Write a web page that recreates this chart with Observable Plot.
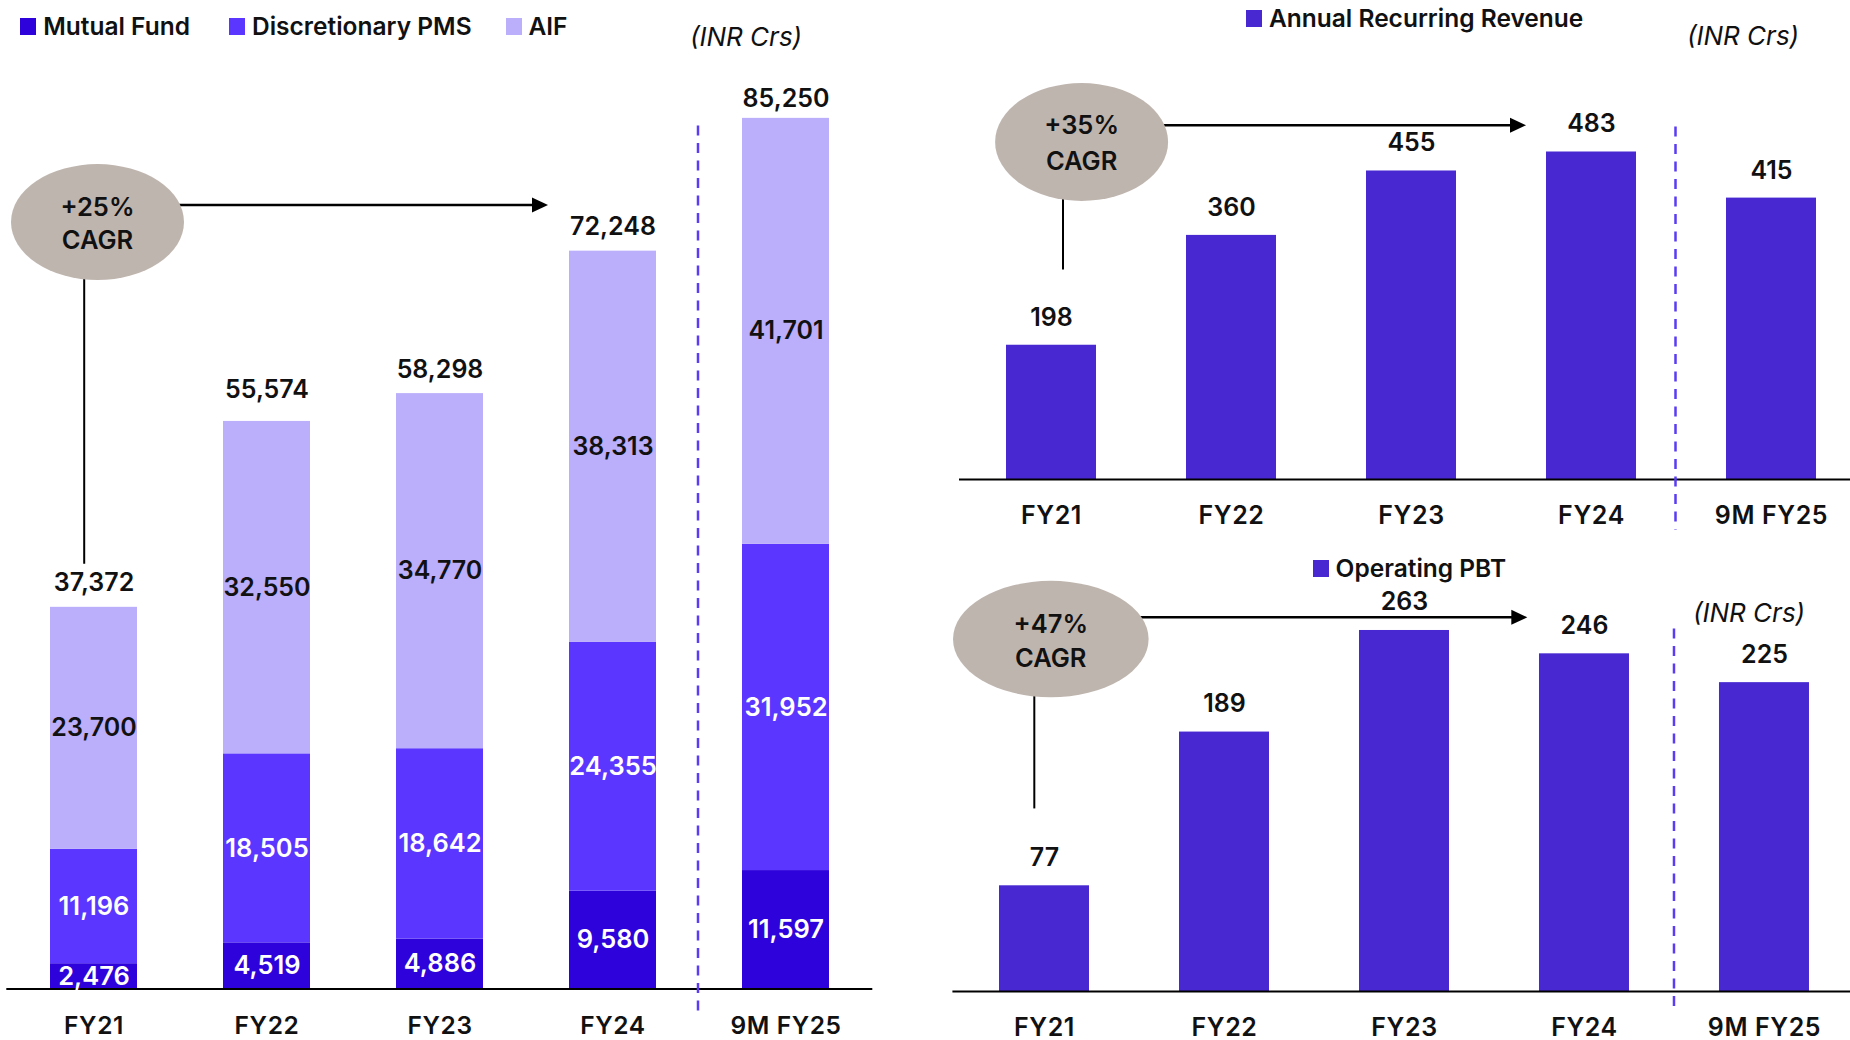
<!DOCTYPE html>
<html>
<head>
<meta charset="utf-8">
<title>AUM, Annual Recurring Revenue and Operating PBT</title>
<script src="https://cdn.jsdelivr.net/npm/d3@7"></script>
<script src="https://cdn.jsdelivr.net/npm/@observablehq/plot@0.6"></script>
<style>
  html, body { margin: 0; padding: 0; background: #fff; }
  body {
    width: 1850px; height: 1040px; overflow: hidden; position: relative;
    font-family: Inter, "Noto Sans", sans-serif; color: #111;
  }
  .panel { position: absolute; }
  .panel svg { max-width: none !important; }
  .legend-item {
    position: absolute; display: flex; align-items: center; height: 30px;
    font-size: 24.5px; font-weight: 600; white-space: nowrap; line-height: 1;
  }
  .legend-item .sw { display: inline-block; width: 16px; height: 17px; margin-right: 7px; flex: none; }
  .unit {
    position: absolute; font-size: 26px; font-style: italic; font-weight: 400;
    line-height: 30px; height: 30px; white-space: nowrap;
  }
  svg g[aria-label="x-axis tick label"] { font-weight: 600; letter-spacing: 0.6px; }
</style>
</head>
<body>
<div id="aum" class="panel" style="left:0;top:0"></div>
<div id="arr" class="panel" style="left:940px;top:0"></div>
<div id="pbt" class="panel" style="left:940px;top:540px"></div>
<script>
// ---- data (INR Crs) ----
const years = ["FY21", "FY22", "FY23", "FY24", "9M FY25"];
const aumSeries = ["Mutual Fund", "Discretionary PMS", "AIF"];
const mutualFund = [2476, 4519, 4886, 9580, 11597];
const discretionaryPms = [11196, 18505, 18642, 24355, 31952];
const aif = [23700, 32550, 34770, 38313, 41701];
const annualRecurringRevenue = [198, 360, 455, 483, 415];
const operatingPbt = [77, 189, 263, 246, 225];
const cagrAum = "+25%";
const cagrArr = "+35%";
const cagrPbt = "+47%";

// ---- styling ----
const FONT = "Inter, 'Noto Sans', sans-serif";
const aumColors = ["#2e02da", "#5a36ff", "#bbaefb"];
const barColor = "#4829d1";
const dividerColor = "#5b3cf2";
const badgeColor = "#bfb5af";
const ink = "#111";
const fmt = d3.format(",");

// long-form table for the stacked AUM bars (Mutual Fund at the bottom)
const aumRows = years.flatMap((year, i) => [
  {year, series: aumSeries[0], value: mutualFund[i]},
  {year, series: aumSeries[1], value: discretionaryPms[i]},
  {year, series: aumSeries[2], value: aif[i]}
]);
const aumTotals = years.map((year, i) => ({year, total: mutualFund[i] + discretionaryPms[i] + aif[i]}));
const arrRows = years.map((year, i) => ({year, value: annualRecurringRevenue[i]}));
const pbtRows = years.map((year, i) => ({year, value: operatingPbt[i]}));

// Dashed divider before the 9-month period, plus the CAGR bubble with its
// stem and arrow; everything is placed from the chart's own x and y scales.
function annotations({badge, divider}) {
  return (index, {x, y}) => {
    const g = d3.create("svg:g");
    const bw = x.bandwidth();
    const base = y(0);

    const xd = (x(divider.after) + bw + x(divider.before)) / 2 + divider.dx;
    g.append("line")
      .attr("x1", xd).attr("x2", xd)
      .attr("y1", y(divider.top)).attr("y2", base + divider.below)
      .attr("stroke", dividerColor).attr("stroke-width", 2.5)
      .attr("stroke-dasharray", "10 7.5");

    const cx = x(badge.at) + bw / 2 + badge.dx;
    const cy = y(badge.y);
    const {rx, ry} = badge;

    const sx = cx + badge.stemDx;
    const sTop = cy + ry * Math.sqrt(1 - ((sx - cx) / rx) ** 2);
    g.append("line")
      .attr("x1", sx).attr("x2", sx)
      .attr("y1", sTop - 3).attr("y2", y(badge.stemTo))
      .attr("stroke", "#000").attr("stroke-width", 2);

    const ay = cy + badge.arrowDy;
    const ax0 = cx + rx * Math.sqrt(1 - ((ay - cy) / ry) ** 2);
    const ax1 = x(badge.arrowTo) + badge.arrowDx;
    g.append("line")
      .attr("x1", ax0 - 3).attr("x2", ax1 - 12)
      .attr("y1", ay).attr("y2", ay)
      .attr("stroke", "#000").attr("stroke-width", 2.5);
    g.append("path")
      .attr("d", `M${ax1},${ay}L${ax1 - 16},${ay - 7.5}L${ax1 - 16},${ay + 7.5}Z`)
      .attr("fill", "#000");

    g.append("ellipse")
      .attr("cx", cx).attr("cy", cy).attr("rx", rx).attr("ry", ry)
      .attr("fill", badgeColor);
    const t = g.append("g")
      .attr("text-anchor", "middle")
      .attr("font-family", FONT).attr("font-size", 25.5).attr("font-weight", 600)
      .attr("fill", ink);
    t.append("text").attr("x", cx).attr("y", cy + badge.line1).attr("dy", "0.36em").text(badge.label);
    t.append("text").attr("x", cx).attr("y", cy + badge.line2).attr("dy", "0.36em").text("CAGR");
    return g.node();
  };
}

const baseStyle = {fontFamily: FONT, overflow: "visible", background: "transparent", color: ink, maxWidth: "none"};
const totalText = {x: "year", y: "total", text: d => fmt(d.total), fontSize: 25, fontWeight: 600, fill: ink};

// ---- Assets under management, stacked by product ----
const aumChart = Plot.plot({
  width: 880, height: 1040,
  marginTop: 28.5, marginBottom: 51.5, marginLeft: 6.3, marginRight: 7.7,
  style: baseStyle,
  x: {domain: years, type: "band", paddingInner: 0.5, paddingOuter: 0.25, label: null},
  y: {domain: [0, 94000], axis: null},
  color: {domain: aumSeries, range: aumColors},
  marks: [
    Plot.barY(aumRows, {x: "year", y: "value", fill: "series"}),
    Plot.ruleY([0], {stroke: "#000", strokeWidth: 2}),
    Plot.text(aumRows, Plot.stackY({
      x: "year", y: "value", z: "series",
      text: d => d.series === "AIF" ? fmt(d.value) : null,
      fill: ink, fontSize: 25, fontWeight: 600
    })),
    Plot.text(aumRows, Plot.stackY({
      x: "year", y: "value", z: "series",
      text: d => d.series !== "AIF" ? fmt(d.value) : null,
      fill: "#fff", fontSize: 25.5, fontWeight: 600
    })),
    // totals sit a little higher over FY22 and a little lower over the 9M bar
    Plot.text(aumTotals, {...totalText, filter: d => d.year !== "FY22" && d.year !== "9M FY25", dy: -24}),
    Plot.text(aumTotals, {...totalText, filter: d => d.year === "FY22", dy: -31}),
    Plot.text(aumTotals, {...totalText, filter: d => d.year === "9M FY25", dy: -19}),
    Plot.axisX({tickSize: 0, tickPadding: 27.5, fontSize: 24.5, fontWeight: 600, color: ink, label: null}),
    annotations({
      divider: {after: "FY24", before: "9M FY25", dx: -1, top: 84500, below: 23.5},
      badge: {
        label: cagrAum, at: "FY21", dx: 4, y: 75050, rx: 86.5, ry: 58,
        line1: -15, line2: 18, stemDx: -13.3, stemTo: 41600,
        arrowDy: -17, arrowTo: "FY24", arrowDx: -21
      }
    })
  ]
});
document.getElementById("aum").append(aumChart);

// ---- Annual Recurring Revenue ----
const arrChart = Plot.plot({
  width: 922, height: 540,
  marginTop: 58.6, marginBottom: 61, marginLeft: 19, marginRight: 0,
  style: baseStyle,
  x: {domain: years, type: "band", paddingInner: 0.5, paddingOuter: 0.25, label: null},
  y: {domain: [0, 620], axis: null},
  marks: [
    Plot.barY(arrRows, {x: "year", y: "value", fill: barColor}),
    Plot.ruleY([0], {stroke: "#000", strokeWidth: 2}),
    Plot.text(arrRows, {x: "year", y: "value", text: d => fmt(d.value), dy: -27.5, fontSize: 25, fontWeight: 600, fill: ink}),
    Plot.axisX({tickSize: 0, tickPadding: 26.5, fontSize: 25, fontWeight: 600, color: ink, label: null}),
    annotations({
      divider: {after: "FY24", before: "9M FY25", dx: -5.5, top: 520, below: 50.6},
      badge: {
        label: cagrArr, at: "FY21", dx: 30.6, y: 497, rx: 86.5, ry: 59,
        line1: -17, line2: 18.5, stemDx: -18.6, stemTo: 309,
        arrowDy: -16.7, arrowTo: "FY24", arrowDx: -20
      }
    })
  ]
});
document.getElementById("arr").append(arrChart);

// ---- Operating PBT ----
const pbtChart = Plot.plot({
  width: 914.9, height: 500,
  marginTop: 39.2, marginBottom: 49, marginLeft: 12.4, marginRight: 0,
  style: baseStyle,
  x: {domain: years, type: "band", paddingInner: 0.5, paddingOuter: 0.25, label: null},
  y: {domain: [0, 300], axis: null},
  marks: [
    Plot.barY(pbtRows, {x: "year", y: "value", fill: barColor}),
    Plot.ruleY([0], {stroke: "#000", strokeWidth: 2}),
    Plot.text(pbtRows, {x: "year", y: "value", text: d => fmt(d.value), dy: -28, fontSize: 25, fontWeight: 600, fill: ink}),
    Plot.axisX({tickSize: 0, tickPadding: 27, fontSize: 25, fontWeight: 600, color: ink, label: null}),
    annotations({
      divider: {after: "FY24", before: "9M FY25", dx: 0, top: 264, below: 20.7},
      badge: {
        label: cagrPbt, at: "FY21", dx: 6.8, y: 256.4, rx: 97.8, ry: 58.2,
        line1: -15.7, line2: 19, stemDx: -16.5, stemTo: 133,
        arrowDy: -21.7, arrowTo: "FY24", arrowDx: -11.7
      }
    })
  ]
});
document.getElementById("pbt").append(pbtChart);

// ---- legends and unit notes ----
function legendItem(left, cy, color, label) {
  const item = document.createElement("div");
  item.className = "legend-item";
  item.style.left = left + "px";
  item.style.top = (cy - 15) + "px";
  const sw = document.createElement("span");
  sw.className = "sw";
  sw.style.background = color;
  item.append(sw, document.createTextNode(label));
  document.body.append(item);
}
function unitNote(left, cy) {
  const n = document.createElement("div");
  n.className = "unit";
  n.style.left = left + "px";
  n.style.top = (cy - 15) + "px";
  n.textContent = "(INR Crs)";
  document.body.append(n);
}
legendItem(20.2, 26, aumColors[0], aumSeries[0]);
legendItem(229, 26, aumColors[1], aumSeries[1]);
legendItem(505.5, 26, aumColors[2], aumSeries[2]);
unitNote(690, 37.3);
legendItem(1246, 18.5, barColor, "Annual Recurring Revenue");
unitNote(1687, 36.3);
legendItem(1312.6, 568.5, barColor, "Operating PBT");
unitNote(1693, 613.3);
</script>
</body>
</html>
